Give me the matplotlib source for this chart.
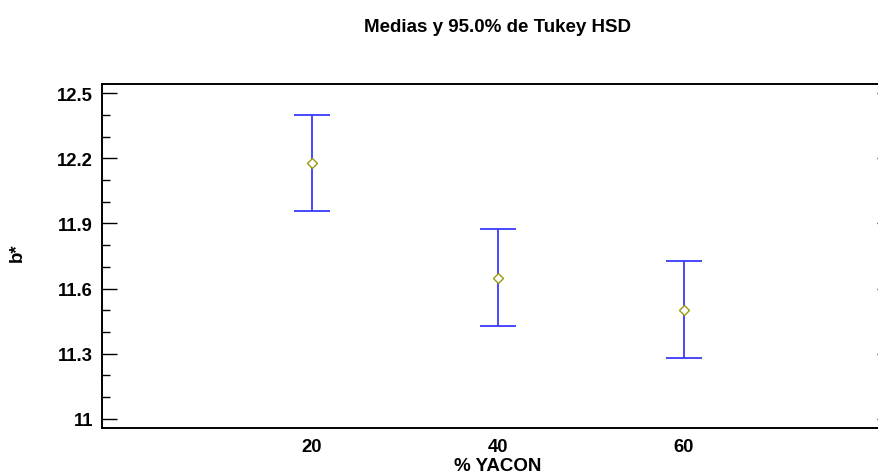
import matplotlib.pyplot as plt
from matplotlib.ticker import MultipleLocator

plt.rcParams['font.family'] = ['Liberation Sans', 'DejaVu Sans']

# Tukey HSD 95% intervals for b* by % YACON
groups = ["20", "40", "60"]
means = [12.18, 11.65, 11.50]
lower = [11.959, 11.427, 11.281]
upper = [12.402, 11.873, 11.725]
yticks = [11, 11.3, 11.6, 11.9, 12.2, 12.5]
ytick_labels = ["11", "11.3", "11.6", "11.9", "12.2", "12.5"]

fig = plt.figure(figsize=(8.79, 4.77), dpi=100)
# axes runs past the right edge of the picture, like the original export
ax = fig.add_axes([102 / 879, 1 - 429 / 477, 790 / 879, (429 - 85) / 477])

xpos = list(range(len(groups)))
yerr = [[m - lo for m, lo in zip(means, lower)],
        [up - m for m, up in zip(means, upper)]]
ax.errorbar(xpos, means, yerr=yerr, fmt='none', ecolor='#3a3aff',
            elinewidth=1.3, capsize=13.3, capthick=1.3)
ax.plot(xpos, means, linestyle='none', marker='D', markersize=5,
        markerfacecolor='white', markeredgecolor='#9a9a10', markeredgewidth=1)

ax.set_xlim(-1.13, 3.12)
ax.set_ylim(10.957, 12.543)
ax.set_xticks(xpos)
ax.set_xticklabels(groups)
ax.set_yticks(yticks)
ax.set_yticklabels(ytick_labels)
ax.yaxis.set_minor_locator(MultipleLocator(0.1))

ax.tick_params(axis='y', which='major', direction='in', length=10.8, width=1.0,
               right=True, labelsize=13.3, pad=6.5)
ax.tick_params(axis='y', which='minor', direction='in', length=5.8, width=1.0,
               right=True)
ax.tick_params(axis='x', length=0, labelsize=13.3, pad=7.5)
for lbl in ax.get_xticklabels() + ax.get_yticklabels():
    lbl.set_fontweight('bold')

for sp in ax.spines.values():
    sp.set_linewidth(1.4)

ax.set_xlabel("% YACON", fontsize=13.5, fontweight='bold')
ax.xaxis.set_label_coords(0.501, -0.083)
ax.set_ylabel("b*", fontsize=13.5, fontweight='bold')
ax.yaxis.set_label_coords(-0.097, 0.512)
fig.text(498 / 879, 1 - 27 / 477, "Medias y 95.0% de Tukey HSD",
         ha='center', va='center', fontsize=13.5, fontweight='bold')

fig.savefig("out.png", dpi=100)
